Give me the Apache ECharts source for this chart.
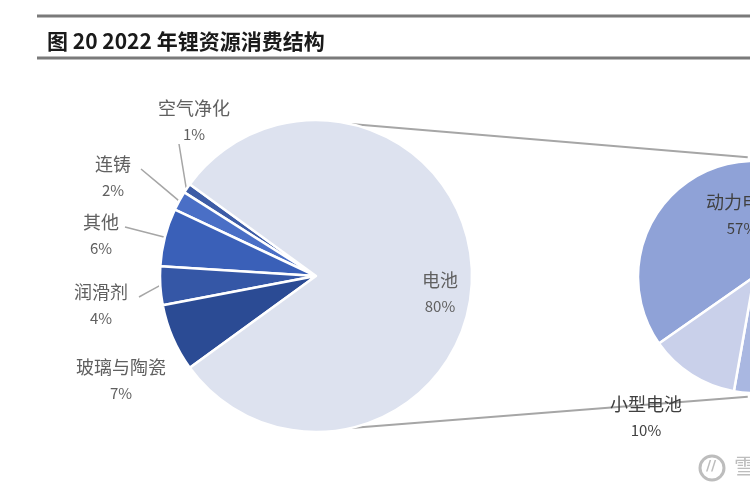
<!DOCTYPE html>
<html><head><meta charset="utf-8">
<script src="https://cdn.jsdelivr.net/npm/echarts@6/dist/echarts.min.js"></script>
<style>html,body{margin:0;padding:0;background:#fff}#c{width:750px;height:500px}</style>
</head><body><div id="c"></div>
<script>
// ---- data ----
const titleText = '图 20 2022 年锂资源消费结构';
const mainCategories = ['空气净化', '连铸', '其他', '润滑剂', '玻璃与陶瓷', '电池'];
const mainValues = [1, 2, 6, 4, 7, 80];
const subCategories = ['动力电池', '储能电池', '小型电池'];
const subValues = [57, 13, 10];

// ---- layout / style ----
const mainColors = ['#3d5ca6', '#4a6fc6', '#3a60b8', '#3557a6', '#2b4b94', '#dde2ef'];
const subColors = ['#8fa2d7', '#a9b7e1', '#c9d0ea'];
const C1 = [316, 276], R1 = 156, START1 = 144;
const C2 = [754, 277], R2 = 116, START2 = 215;
const mainLabelPos = [[194, 121], [113, 177], [101, 235], [101, 305], [121, 380], [440, 293]];
const mainLineEnd = [[179, 144], [141, 169], [125, 227], [139, 297], null, null];
const subLabelPos = [[742, 215], [820, 340], [646, 417]];
const fontCJK = '"Noto Sans CJK SC", "Noto Sans", sans-serif';

function midAngles(vals, start, clockwise) {
  const tot = vals.reduce((a, b) => a + b, 0);
  let acc = start; const out = [];
  vals.forEach(v => { const s = v / tot * 360; out.push(clockwise ? acc - s / 2 : acc + s / 2); acc = clockwise ? acc - s : acc + s; });
  return out;
}
const mid1 = midAngles(mainValues, START1, false);
function pt(c, r, deg) { const a = deg * Math.PI / 180; return [c[0] + r * Math.cos(a), c[1] - r * Math.sin(a)]; }

const rich = {
  n: { fontSize: 18, color: '#606060', fontFamily: fontCJK, lineHeight: 26, align: 'center' },
  p: { fontSize: 15, color: '#606060', fontFamily: fontCJK, lineHeight: 26, align: 'center' }
};
const richDark = {
  n: { fontSize: 18, color: '#404040', fontFamily: fontCJK, lineHeight: 26, align: 'center' },
  p: { fontSize: 15, color: '#404040', fontFamily: fontCJK, lineHeight: 26, align: 'center' }
};

const topL = pt(C1, R1, 77), botL = pt(C1, R1, -77);
const topR = pt(C2, R2 + 4, 93), botR = pt(C2, R2 + 4, -93);

const chart = echarts.init(document.getElementById('c'), null, { renderer: 'canvas' });
chart.setOption({
  backgroundColor: '#ffffff',
  animation: false,
  title: {
    text: titleText, left: 42, top: 26,
    textStyle: { fontSize: 21, fontWeight: 'bold', color: '#1a1a1a', fontFamily: fontCJK }
  },
  graphic: [
    { type: 'line', shape: { x1: 37, y1: 16, x2: 750, y2: 16 }, style: { stroke: '#7a7a7a', lineWidth: 3 } },
    { type: 'line', shape: { x1: 37, y1: 58, x2: 750, y2: 58 }, style: { stroke: '#7a7a7a', lineWidth: 3 } },
    { type: 'line', shape: { x1: topL[0], y1: topL[1], x2: topR[0], y2: topR[1] }, style: { stroke: '#a6a6a6', lineWidth: 2 } },
    { type: 'line', shape: { x1: botL[0], y1: botL[1], x2: botR[0], y2: botR[1] }, style: { stroke: '#a6a6a6', lineWidth: 2 } },
    { type: 'circle', shape: { cx: 712, cy: 468, r: 12 }, style: { stroke: '#bdbdbd', fill: 'none', lineWidth: 3 } },
    { type: 'text', left: 706, top: 459, style: { text: '//', fill: '#bdbdbd', font: 'bold 14px "DejaVu Sans"' } },
    { type: 'text', left: 734, top: 455, style: { text: '雪球', fill: '#bdbdbd', font: '22px "Noto Sans CJK SC"' } }
  ],
  series: [
    {
      type: 'pie', center: C1, radius: R1, startAngle: START1, clockwise: false,
      data: mainCategories.map((n, i) => ({ name: n, value: mainValues[i], itemStyle: { color: mainColors[i] } })),
      itemStyle: { borderColor: '#ffffff', borderWidth: 2.5 },
      label: { show: true, position: 'outside', formatter: '{n|{b}}\n{p|{c}%}', rich: rich },
      labelLine: { show: true, length: 10, length2: 10, lineStyle: { color: '#a6a6a6', width: 1.5 } },
      labelLayout: function (p) {
        const i = p.dataIndex, pos = mainLabelPos[i];
        const o = { x: pos[0], y: pos[1], align: 'center', verticalAlign: 'middle' };
        if (mainLineEnd[i]) {
          const s = pt(C1, R1 + 1, mid1[i]), e = mainLineEnd[i];
          o.labelLinePoints = [s, [(s[0] + e[0]) / 2, (s[1] + e[1]) / 2], e];
        } else {
          o.labelLinePoints = [[0, 0], [0, 0], [0, 0]];
        }
        return o;
      },
      emphasis: { disabled: true }
    },
    {
      type: 'pie', center: C2, radius: R2, startAngle: START2, clockwise: true,
      data: subCategories.map((n, i) => ({ name: n, value: subValues[i], itemStyle: { color: subColors[i] } })),
      itemStyle: { borderColor: '#ffffff', borderWidth: 2.5 },
      label: { show: true, position: 'inside', formatter: '{n|{b}}\n{p|{c}%}', rich: richDark },
      labelLine: { show: false },
      labelLayout: function (p) {
        const pos = subLabelPos[p.dataIndex];
        return { x: pos[0], y: pos[1], align: 'center', verticalAlign: 'middle' };
      },
      emphasis: { disabled: true }
    }
  ]
});
</script>
</body></html>
